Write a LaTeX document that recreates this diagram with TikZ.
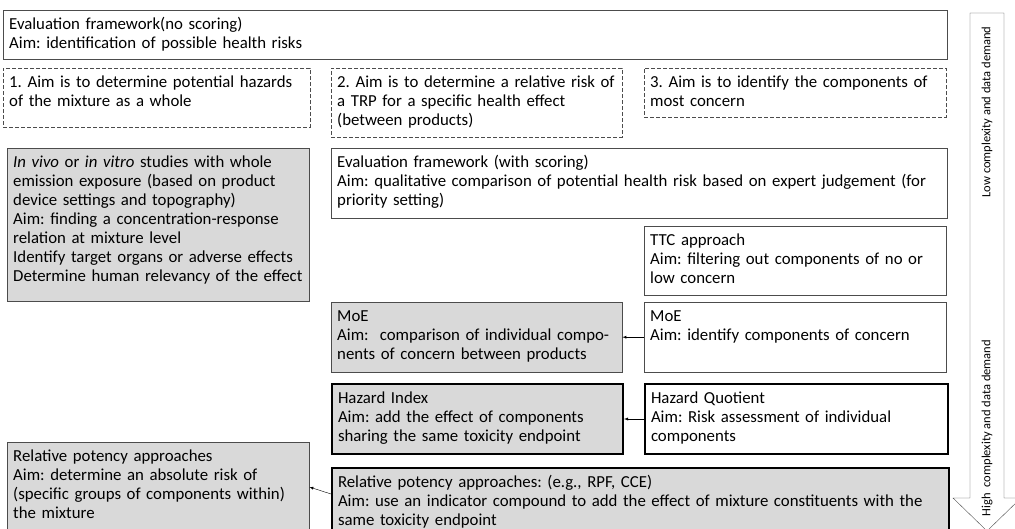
\documentclass[tikz,border=0pt]{standalone}
\usepackage{fontspec}
\setmainfont{Carlito}
\newcommand\panelfont{\fontsize{16.8}{19}\selectfont\frenchspacing\hyphenpenalty=10000\relax}
\newcommand\sidefont{\fontsize{12.5}{14}\selectfont}
\tikzset{
	panel/.style={draw=black!70,anchor=north west,align=left,inner xsep=6pt,inner ysep=4pt,text height=15pt},
	aimbox/.style={panel,dash pattern=on 4pt off 2pt},
	greypanel/.style={panel,fill=black!15},
	keypanel/.style={panel,draw=black,line width=2pt},
	keygrey/.style={keypanel,fill=black!15},
	link/.style={thin,-latex},
}
\begin{document}
\begin{tikzpicture}[x=1pt,y=-1pt,font=\panelfont]
		\useasboundingbox(0,0)rectangle(1015,529);
		\node[panel,text width=932pt,text depth=26pt](noscore)at(3,10){Evaluation framework(no scoring)\\Aim: identification of possible health risks};
		\node[aimbox,text width=295pt,text depth=36pt](aima)at(3,68){1. Aim is to determine potential hazards\\of the mixture as a whole};
		\node[aimbox,text width=279pt,text depth=46pt](aimb)at(331,68){2. Aim is to determine a relative risk of\\a TRP for a specific health effect\\(between products)};
		\node[aimbox,text width=290pt,text depth=26pt](aimc)at(644,68){3. Aim is to identify the components of\\most concern};
		\node[greypanel,text width=290pt,text depth=130pt](vivo)at(7,148){\textit{In vivo} or \textit{in vitro} studies with whole\\emission exposure (based on product\\device settings and topography)\\Aim: finding a concentration-response\\relation at mixture level\\Identify target organs or adverse effects\\Determine human relevancy of the effect};
		\node[panel,text width=604pt,text depth=47pt](scoring)at(331,148){Evaluation framework (with scoring)\\Aim: qualitative comparison of potential health risk based on expert judgement (for\\priority setting)};
		\node[panel,text width=290pt,text depth=46pt](ttc)at(644,226){TTC approach\\Aim: filtering out components of no or\\low concern};
		\node[greypanel,text width=279pt,text depth=47pt](moecomp)at(331,302){MoE\\Aim:\ \ comparison of individual compo-\\nents of concern between products};
		\node[panel,text width=290pt,text depth=47pt](moe)at(644,302){MoE\\Aim: identify components of concern};
		\node[keygrey,text width=279pt,text depth=47pt](hi)at(331,383){Hazard Index\\Aim: add the effect of components\\sharing the same toxicity endpoint};
		\node[keypanel,text width=291pt,text depth=47pt](hq)at(644,383){Hazard Quotient\\Aim: Risk assessment of individual\\components};
		\node[greypanel,text width=290pt,text depth=100pt](rpabs)at(7,442){Relative potency approaches\\Aim: determine an absolute risk of\\(specific groups of components within)\\the mixture};
		\node[keygrey,text width=605pt,text depth=80pt](rpf)at(331,467){Relative potency approaches: (e.g., RPF, CCE)\\Aim: use an indicator compound to add the effect of mixture constituents with the\\same toxicity endpoint};
		\draw[link](moe.west)--(moecomp.east);
		\draw[link](hq.west)--(hi.east);
		\draw[link]([yshift=-27pt]rpf.north west)--([yshift=-45pt]rpabs.north east);
		% complexity arrow on the right
		\draw[black!70,fill=white](970,13)--(1004,13)--(1004,498)--(1021,498)--(987,531)--(953,498)--(970,498)--cycle;
		\node[rotate=90,font=\sidefont](low)at(987,112){Low complexity and data demand};
		\node[rotate=90,font=\sidefont](high)at(987,428){High\ \ complexity and data demand};
	\end{tikzpicture}
\end{document}
